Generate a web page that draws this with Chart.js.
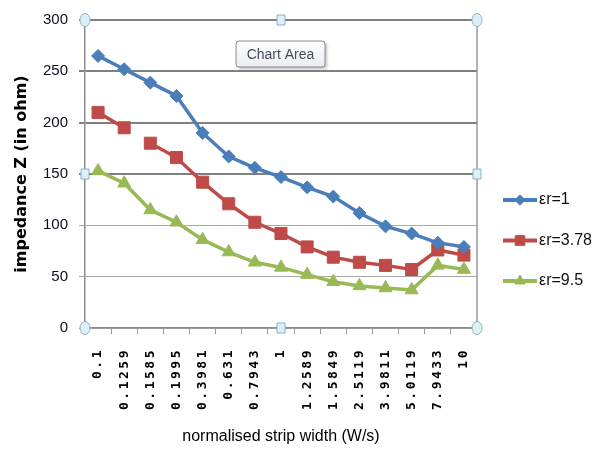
<!DOCTYPE html>
<html>
<head>
<meta charset="utf-8">
<script src="https://cdn.jsdelivr.net/npm/chart.js@4.4.1/dist/chart.umd.min.js"></script>
<style>
  html, body { margin: 0; padding: 0; background: #fff; }
  #wrap { position: relative; width: 603px; height: 457px; }
</style>
</head>
<body>
<div id="wrap"><canvas id="chart"></canvas></div>
<script>
'use strict';

// normalised strip width W/s (category labels)
const stripWidths = ['0.1', '0.1259', '0.1585', '0.1995', '0.3981', '0.631', '0.7943', '1',
    '1.2589', '1.5849', '2.5119', '3.9811', '5.0119', '7.9433', '10'];

// impedance Z in ohm
const zEr1   = [265, 252, 239, 226, 190, 167, 156, 147, 137, 128, 112, 99, 92, 83, 79];
const zEr378 = [210, 195, 180, 166, 142, 121, 103, 92, 79, 69, 64, 61, 57, 76, 71];
const zEr95  = [153, 141, 115, 103, 86, 74, 64, 59, 52, 45, 41, 39, 37, 61, 57];

const seriesNames = ['εr=1', 'εr=3.78', 'εr=9.5'];
const seriesColors = ['#4A7EBB', '#BE4B48', '#98B954'];
const seriesMarkers = [
    { pointStyle: 'rectRot', radius: 6.5 },
    { pointStyle: 'rect', radius: 8.5 },
    { pointStyle: 'triangle', radius: 7.5 },
];

const yMin = 0, yMax = 300, yStep = 50;

/* draws the handles, the hover box and the legend on top */
const overlayPlugin = {
    id: 'overlay',
    afterDatasetsDraw(chart) {
        // only the x tick labels (z = 1) are drawn after this point
        chart.ctx.letterSpacing = '2.5px';
    },
    afterDraw(chart) {
        const ctx = chart.ctx;
        ctx.letterSpacing = '0px';
        const a = chart.chartArea;

        // right edge of the plot area
        ctx.save();
        ctx.strokeStyle = '#9a9a9a';
        ctx.lineWidth = 1.5;
        ctx.beginPath();
        ctx.moveTo(a.right, a.top);
        ctx.lineTo(a.right, a.bottom);
        ctx.stroke();
        ctx.restore();

        // selection handles
        const midX = (a.left + a.right) / 2, midY = (a.top + a.bottom) / 2;
        const circle = (x, y) => {
            ctx.beginPath();
            ctx.ellipse(x, y, 5, 6.5, 0, 0, Math.PI * 2);
            ctx.fill();
            ctx.stroke();
        };
        const square = (x, y) => {
            ctx.beginPath();
            ctx.rect(x - 4, y - 5, 8, 10);
            ctx.fill();
            ctx.stroke();
        };
        ctx.save();
        ctx.fillStyle = '#dcf0f8';
        ctx.strokeStyle = '#8fb0c6';
        ctx.lineWidth = 1;
        [[a.left, a.top], [a.right, a.top], [a.left, a.bottom], [a.right, a.bottom]].forEach(p => circle(p[0], p[1]));
        [[midX, a.top], [midX, a.bottom], [a.left, midY], [a.right, midY]].forEach(p => square(p[0], p[1]));
        ctx.restore();

        // "Chart Area" hover box
        ctx.save();
        const bx = 236, by = 41, bw = 89, bh = 26;
        ctx.shadowColor = 'rgba(0,0,0,0.25)';
        ctx.shadowOffsetX = 2;
        ctx.shadowOffsetY = 2;
        ctx.shadowBlur = 3;
        const g = ctx.createLinearGradient(0, by, 0, by + bh);
        g.addColorStop(0, '#ffffff');
        g.addColorStop(1, '#e9ecf2');
        ctx.fillStyle = g;
        ctx.beginPath();
        ctx.roundRect(bx, by, bw, bh, 3);
        ctx.fill();
        ctx.shadowColor = 'transparent';
        ctx.strokeStyle = '#8a8a8a';
        ctx.lineWidth = 1;
        ctx.stroke();
        ctx.fillStyle = '#4b4b5c';
        ctx.font = '14px "Liberation Sans", Arial, sans-serif';
        ctx.textAlign = 'center';
        ctx.textBaseline = 'middle';
        ctx.fillText('Chart Area', bx + bw / 2, by + bh / 2 + 1);
        ctx.restore();

        // legend on the right: line + marker + label
        ctx.save();
        const lx = a.right + 26, ly = 200, gap = 40.5;
        chart.data.datasets.forEach((ds, i) => {
            const y = ly + i * gap;
            ctx.strokeStyle = ds.borderColor;
            ctx.lineWidth = 4;
            ctx.beginPath();
            ctx.moveTo(lx, y);
            ctx.lineTo(lx + 34, y);
            ctx.stroke();
            ctx.fillStyle = ds.backgroundColor;
            ctx.lineWidth = 1;
            Chart.helpers.drawPoint(ctx, {
                pointStyle: ds.pointStyle,
                radius: ds.pointRadius * 0.8,
                rotation: 0,
                borderWidth: 1,
            }, lx + 17, y);
            ctx.fillStyle = '#111';
            ctx.font = '16px "Liberation Sans", Arial, sans-serif';
            ctx.textAlign = 'left';
            ctx.textBaseline = 'middle';
            ctx.fillText(ds.label, lx + 36, y);
        });
        ctx.restore();
    },
};

function makeDataset(i, values) {
    return {
        label: seriesNames[i],
        data: values,
        borderColor: seriesColors[i],
        backgroundColor: seriesColors[i],
        borderWidth: 3.5,
        pointStyle: seriesMarkers[i].pointStyle,
        pointRadius: seriesMarkers[i].radius,
        pointBorderWidth: 1,
        tension: 0,
    };
}

const redSet = makeDataset(1, zEr378);
// the picture shows a break in this line between the 2nd and 3rd points
redSet.segment = { borderColor: c => (c.p0DataIndex === 1 ? 'rgba(0,0,0,0)' : undefined) };

new Chart(document.getElementById('chart'), {
    type: 'line',
    data: {
        labels: stripWidths,
        datasets: [makeDataset(0, zEr1), redSet, makeDataset(2, zEr95)],
    },
    options: {
        responsive: true,
        maintainAspectRatio: false,
        animation: false,
        layout: { padding: { top: 19, right: 126, bottom: 0, left: 0 } },
        plugins: {
            legend: { display: false },
            tooltip: { enabled: false },
        },
        scales: {
            x: {
                offset: true,
                afterFit(scale) { scale.height = 129; },
                grid: {
                    offset: true,
                    drawOnChartArea: false,
                    drawTicks: true,
                    tickLength: 6,
                    color: '#9a9a9a',
                },
                border: { color: '#8c8c8c', width: 1.5 },
                ticks: {
                    z: 1,
                    autoSkip: false,
                    maxRotation: 90,
                    minRotation: 90,
                    padding: 14,
                    color: '#000',
                    font: { family: '"DejaVu Sans Mono", monospace', size: 13, weight: 'bold' },
                },
                title: {
                    display: true,
                    text: 'normalised strip width (W/s)',
                    color: '#000',
                    font: { family: '"Liberation Sans", Arial, sans-serif', size: 16 },
                    padding: { top: 0, bottom: 11 },
                },
            },
            y: {
                min: yMin,
                max: yMax,
                afterFit(scale) { scale.width = 85; },
                grid: {
                    color: c => (c.tick && c.tick.value >= 150 ? '#808080' : '#a8a8a8'),
                    lineWidth: c => (c.tick && c.tick.value >= 150 ? 2 : 1),
                    drawTicks: true,
                    tickLength: 6,
                },
                border: { color: '#8c8c8c', width: 1.5 },
                ticks: {
                    stepSize: yStep,
                    padding: 11,
                    color: '#0d0d22',
                    font: { family: '"Liberation Sans", Arial, sans-serif', size: 15 },
                },
                title: {
                    display: true,
                    text: 'impedance Z (in ohm)',
                    color: '#000',
                    font: { family: '"DejaVu Sans", sans-serif', size: 16, weight: 'bold' },
                    padding: { top: 12, bottom: 0 },
                },
            },
        },
    },
    plugins: [overlayPlugin],
});
</script>
</body>
</html>
